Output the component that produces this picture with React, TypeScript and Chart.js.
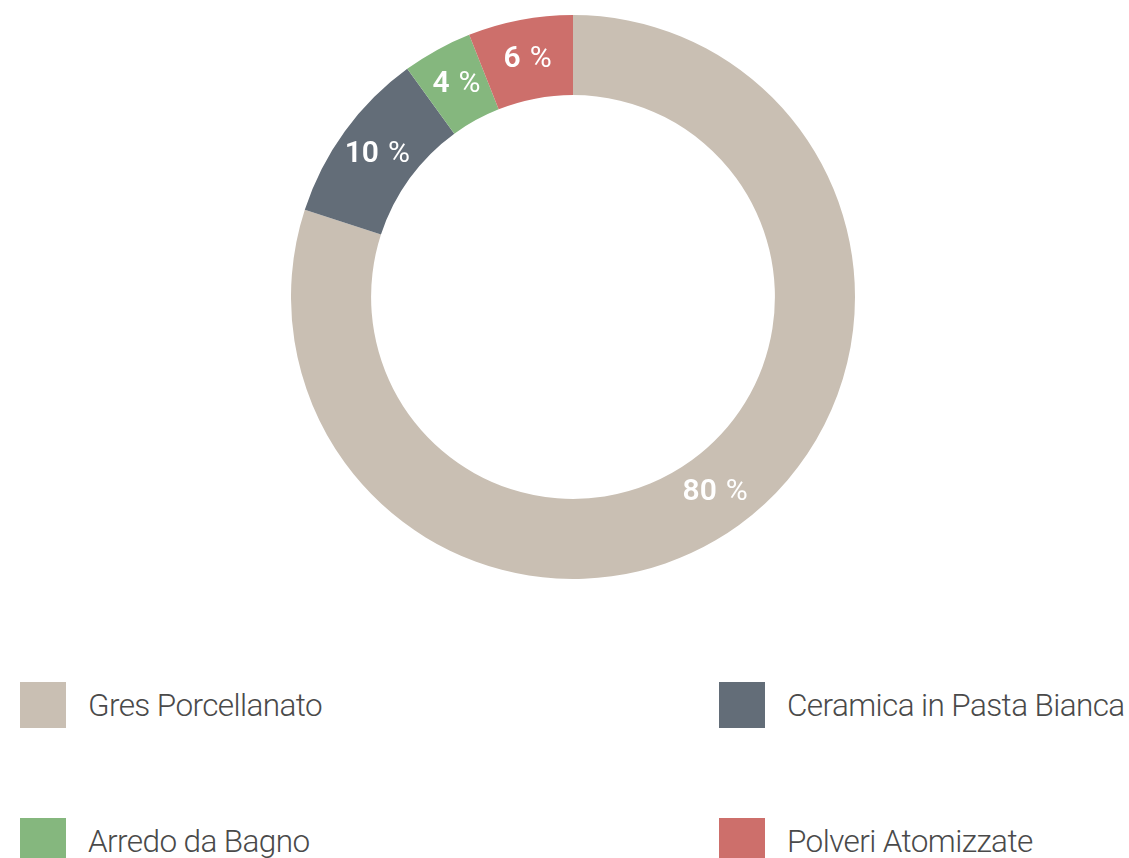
import React, { useEffect, useRef } from "react";
import { Chart, registerables } from "chart.js";

Chart.register(...registerables);

const labels = ["Gres Porcellanato", "Ceramica in Pasta Bianca", "Arredo da Bagno", "Polveri Atomizzate"];
const values = [80, 10, 4, 6];
const colors = ["#c9bfb3", "#636d78", "#85b77e", "#cd6f6b"];

const FONT = "Roboto, 'DejaVu Sans', sans-serif";

const sliceLabels = {
  id: "sliceLabels",
  afterDatasetsDraw(chart: any) {
    const ctx = chart.ctx;
    const meta = chart.getDatasetMeta(0);
    ctx.save();
    ctx.fillStyle = "#ffffff";
    ctx.textBaseline = "middle";
    ctx.textAlign = "left";
    meta.data.forEach((arc: any, i: number) => {
      const p = arc.tooltipPosition();
      const num = String(values[i]);
      const gap = 9;
      ctx.font = `600 30px ${FONT}`;
      const w1 = ctx.measureText(num).width;
      ctx.font = `400 30px ${FONT}`;
      const w2 = ctx.measureText("%").width;
      const x0 = p.x - (w1 + gap + w2) / 2;
      ctx.font = `600 30px ${FONT}`;
      ctx.fillText(num, x0, p.y);
      ctx.font = `400 30px ${FONT}`;
      ctx.fillText("%", x0 + w1 + gap, p.y);
    });
    ctx.restore();
  },
};

export default function App() {
  const ref = useRef<HTMLCanvasElement | null>(null);
  useEffect(() => {
    if (!ref.current) return;
    const chart = new Chart(ref.current, {
      type: "doughnut",
      data: {
        labels,
        datasets: [
          {
            data: values,
            backgroundColor: colors,
            borderWidth: 0,
          },
        ],
      },
      options: {
        animation: false,
        responsive: true,
        maintainAspectRatio: false,
        cutout: "71.6%",
        layout: { padding: 0 },
        plugins: {
          legend: { display: false },
          tooltip: { enabled: false },
        },
      },
      plugins: [sliceLabels],
    });
    return () => chart.destroy();
  }, []);

  const cols = [20, 719];
  const rows = [682, 818];

  return (
    <div style={{ position: "fixed", left: 0, top: 0, width: 1129, height: 858, overflow: "hidden", background: "#fff" }}>
      <div style={{ position: "absolute", left: 291, top: 15, width: 564, height: 564 }}>
        <canvas ref={ref} />
      </div>
      {labels.map((l, i) => (
        <div
          key={l}
          style={{
            position: "absolute",
            left: cols[i % 2],
            top: rows[Math.floor(i / 2)],
            height: 46,
            display: "flex",
            alignItems: "center",
            whiteSpace: "nowrap",
          }}
        >
          <div style={{ width: 46, height: 46, background: colors[i], flex: "none" }} />
          <span
            style={{
              marginLeft: 22,
              fontFamily: FONT,
              fontWeight: 300,
              fontSize: 31.5,
              color: "#4a4a4a",
              letterSpacing: -0.6,
            }}
          >
            {l}
          </span>
        </div>
      ))}
    </div>
  );
}
